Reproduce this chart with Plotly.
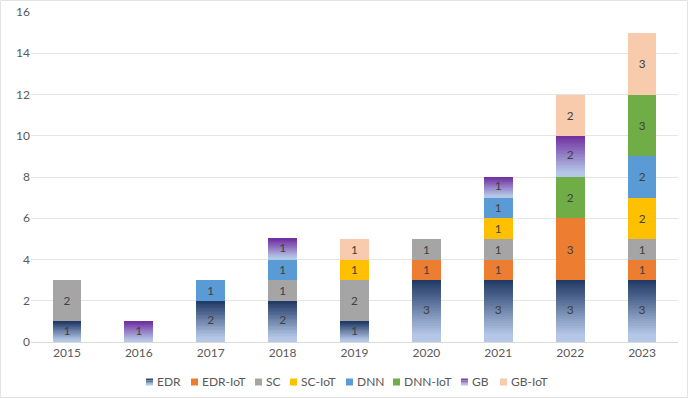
import plotly.graph_objects as go

years = ['2015', '2016', '2017', '2018', '2019', '2020', '2021', '2022', '2023']
EDR = [1, 0, 2, 2, 1, 3, 3, 3, 3]
EDR_IoT = [0, 0, 0, 0, 0, 1, 1, 3, 1]
SC = [2, 0, 0, 1, 2, 1, 1, 0, 1]
SC_IoT = [0, 0, 0, 0, 1, 0, 1, 0, 2]
DNN = [0, 0, 1, 1, 0, 0, 1, 0, 2]
DNN_IoT = [0, 0, 0, 0, 0, 0, 0, 2, 3]
GB = [0, 1, 0, 1, 0, 0, 1, 2, 0]
GB_IoT = [0, 0, 0, 0, 1, 0, 0, 2, 3]

series = [
    ('EDR', EDR, ('#B4C7E7', '#1F3864')),
    ('EDR-IoT', EDR_IoT, '#ED7D31'),
    ('SC', SC, '#A5A5A5'),
    ('SC-IoT', SC_IoT, '#FFC000'),
    ('DNN', DNN, '#5B9BD5'),
    ('DNN-IoT', DNN_IoT, '#70AD47'),
    ('GB', GB, ('#B4C7E7', '#7030A0')),
    ('GB-IoT', GB_IoT, '#F8CBAD'),
]

FONT = 'Lato, "Open Sans", sans-serif'
TXT = '#404040'
AX = '#595959'
N = 30

# plot-area geometry in pixels (figure 688x398)
ML, MR, MT, MB = 31, 10, 12, 56
PW, PH = 688 - ML - MR, 398 - MT - MB
# manual legend layout (pixel x of each swatch, centre y)
LEG_X = [146, 191, 255, 290, 346, 393, 461, 500]
LEG_Y = 382
SW = 7


def px2paper(x, y):
    return (x - ML) / PW, (398 - MB - y) / PH


def hex2rgb(h):
    h = h.lstrip('#')
    return [int(h[i:i + 2], 16) for i in (0, 2, 4)]


def mix(c1, c2, t):
    a, b = hex2rgb(c1), hex2rgb(c2)
    return 'rgb(%d,%d,%d)' % tuple(round(a[k] * (1 - t) + b[k] * t) for k in range(3))


def grad_t(t):
    return min(1.0, max(0.0, (t - 0.12) / 0.88))


fig = go.Figure()
shapes, annotations = [], []
cum = [0] * len(years)
label_x, label_y, label_t = [], [], []
for k, (name, vals, col) in enumerate(series):
    txt = [str(v) if v else '' for v in vals]
    if isinstance(col, tuple):
        light, dark = col
        for i in range(N):
            t = grad_t((i + 0.5) / N)
            fig.add_trace(go.Bar(
                x=years, y=[v / N for v in vals], name=name, showlegend=False,
                marker=dict(color=mix(light, dark, t), line=dict(width=0)),
                hoverinfo='skip'))
        for j, v in enumerate(vals):
            if v:
                label_x.append(years[j])
                label_y.append(cum[j] + v / 2)
                label_t.append(str(v))
    else:
        fig.add_trace(go.Bar(
            x=years, y=vals, name=name, showlegend=False,
            marker=dict(color=col, line=dict(width=0)),
            text=txt, textposition='inside', insidetextanchor='middle',
            textangle=0, textfont=dict(color=TXT, size=12, family=FONT)))
    cum = [c + v for c, v in zip(cum, vals)]

    # legend entry
    x0 = LEG_X[k]
    y0 = LEG_Y - SW / 2
    if isinstance(col, tuple):
        light, dark = col
        M = 4
        for i in range(M):
            t = grad_t(1 - (i + 0.5) / M)
            a0, b0 = px2paper(x0, y0 + i * SW / M)
            a1, b1 = px2paper(x0 + SW, y0 + (i + 1) * SW / M)
            shapes.append(dict(type='rect', xref='paper', yref='paper', x0=a0, x1=a1,
                               y0=b1, y1=b0, fillcolor=mix(light, dark, t), line=dict(width=0)))
    else:
        a0, b0 = px2paper(x0, y0)
        a1, b1 = px2paper(x0 + SW, y0 + SW)
        shapes.append(dict(type='rect', xref='paper', yref='paper', x0=a0, x1=a1,
                           y0=b1, y1=b0, fillcolor=col, line=dict(width=0)))
    tx, ty = px2paper(x0 + SW + 2, LEG_Y)
    annotations.append(dict(x=tx, y=ty, xref='paper', yref='paper', text=name,
                            showarrow=False, xanchor='left', yanchor='middle',
                            font=dict(size=12, color=AX, family=FONT)))

fig.add_trace(go.Scatter(
    x=label_x, y=label_y, text=label_t, mode='text', showlegend=False,
    textfont=dict(color=TXT, size=12, family=FONT), hoverinfo='skip'))

# faint chart-area border
bx0, by0 = px2paper(0.5, 397.5)
bx1, by1 = px2paper(687.5, 0.5)
shapes.append(dict(type='rect', xref='paper', yref='paper', x0=bx0, x1=bx1, y0=by0, y1=by1,
                   line=dict(color='#E3E3E3', width=1), fillcolor='rgba(0,0,0,0)', layer='below'))

fig.update_layout(
    width=688, height=398,
    barmode='stack', bargap=0.6,
    plot_bgcolor='white', paper_bgcolor='white',
    margin=dict(l=ML, r=MR, t=MT, b=MB, autoexpand=False),
    font=dict(family=FONT, color=AX, size=12),
    uniformtext=dict(minsize=8, mode='show'),
    showlegend=False,
    xaxis=dict(type='category', showgrid=False, showline=True, linecolor='#D9D9D9',
               ticks='', tickfont=dict(size=12, color=AX)),
    yaxis=dict(range=[0, 16], dtick=2, showgrid=True, gridcolor='#E5E5E5',
               zeroline=False, ticks='', tickfont=dict(size=12, color=AX)),
    shapes=shapes,
    annotations=annotations,
)

fig.write_html('out.html', config={'displayModeBar': False},
               post_script="document.body.style.margin='0px';")
